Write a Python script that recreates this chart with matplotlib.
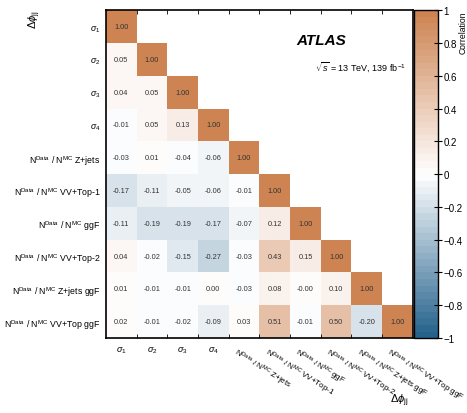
import numpy as np
import matplotlib
matplotlib.use("Agg")
import matplotlib.pyplot as plt
from matplotlib.colors import LinearSegmentedColormap

plt.rcParams['font.family'] = ['Liberation Sans', 'DejaVu Sans']
plt.rcParams['mathtext.fontset'] = 'custom'
plt.rcParams['mathtext.rm'] = 'Liberation Sans'
plt.rcParams['mathtext.it'] = 'Liberation Sans:italic'

labels = [r'$\sigma_1$', r'$\sigma_2$', r'$\sigma_3$', r'$\sigma_4$',
          r'N$^{\rm Data}$ / N$^{\rm MC}$ Z+jets',
          r'N$^{\rm Data}$ / N$^{\rm MC}$ VV+Top-1',
          r'N$^{\rm Data}$ / N$^{\rm MC}$ ggF',
          r'N$^{\rm Data}$ / N$^{\rm MC}$ VV+Top-2',
          r'N$^{\rm Data}$ / N$^{\rm MC}$ Z+jets ggF',
          r'N$^{\rm Data}$ / N$^{\rm MC}$ VV+Top ggF']

row0 = [1.00]
row1 = [0.05, 1.00]
row2 = [0.04, 0.05, 1.00]
row3 = [-0.01, 0.05, 0.13, 1.00]
row4 = [-0.03, 0.01, -0.04, -0.06, 1.00]
row5 = [-0.17, -0.11, -0.05, -0.06, -0.01, 1.00]
row6 = [-0.11, -0.19, -0.19, -0.17, -0.07, 0.12, 1.00]
row7 = [0.04, -0.02, -0.15, -0.27, -0.03, 0.43, 0.15, 1.00]
row8 = [0.01, -0.01, -0.01, 0.00, -0.03, 0.08, -0.00, 0.10, 1.00]
row9 = [0.02, -0.01, -0.02, -0.09, 0.03, 0.51, -0.01, 0.50, -0.20, 1.00]
rows = [row0, row1, row2, row3, row4, row5, row6, row7, row8, row9]
row_texts = [None, None, None, None, None, None, None, None,
             ['0.01', '-0.01', '-0.01', '0.00', '-0.03', '0.08', '-0.00', '0.10', '1.00'], None]

n = len(labels)
M = np.full((n, n), np.nan)
for i, r in enumerate(rows):
    M[i, :len(r)] = r

cmap = LinearSegmentedColormap.from_list(
    'atl', [(0.0, (37/255, 98/255, 140/255)), (0.5, (1, 1, 1)), (1.0, (205/255, 132/255, 82/255))], N=50)

fig = plt.figure(figsize=(4.67, 4.14), dpi=100)
ax = fig.add_axes([0.227, 0.181, 0.657, 0.792])
im = ax.pcolormesh(np.arange(n + 1), np.arange(n + 1), M, cmap=cmap, vmin=-1, vmax=1)
ax.set_xlim(0, n)
ax.set_ylim(n, 0)

for i, r in enumerate(rows):
    for j, v in enumerate(r):
        t = row_texts[i][j] if row_texts[i] else f'{v:.2f}'
        ax.text(j + 0.5, i + 0.5, t, ha='center', va='center', fontsize=5.3, color='#333333')

ax.set_yticks(np.arange(n) + 0.5)
ax.set_yticklabels(labels, fontsize=6.3)
ax.set_xticks(np.arange(n) + 0.5)
ax.set_xticklabels([])
ax.tick_params(axis='both', length=0, pad=4)
ax.set_xticks(np.arange(1, n), minor=True)
ax.set_yticks(np.arange(1, n), minor=True)
ax.tick_params(axis='x', which='minor', direction='in', length=3, top=True, bottom=True, width=0.6)
ax.tick_params(axis='y', which='minor', length=0)
for s in ax.spines.values():
    s.set_linewidth(1.2)

for j, lab in enumerate(labels):
    if j < 4:
        ax.text(j + 0.5, n + 0.2, lab, ha='center', va='top', fontsize=6.5)
    else:
        ax.text(j + 0.3, n + 0.22, lab, ha='left', va='top', fontsize=5.8,
                rotation=-32, rotation_mode='anchor')

fig.text(0.855, 0.032, r'$\Delta\phi_{\rm jj}$', ha='center', va='center', fontsize=8)
fig.text(0.075, 0.975, r'$\Delta\phi_{\rm jj}$', ha='center', va='top', fontsize=8, rotation=90)

ax.text(0.62, 0.91, 'ATLAS', transform=ax.transAxes, fontsize=11, fontweight='bold', style='italic', ha='left', va='center')
ax.text(0.68, 0.83, r'$\sqrt{s}$ = 13 TeV, 139 fb$^{-1}$', transform=ax.transAxes, fontsize=6.5, ha='left', va='center')

cax = fig.add_axes([0.886, 0.181, 0.051, 0.792])
cb = fig.colorbar(im, cax=cax)
cb.set_ticks(np.arange(-1, 1.01, 0.2))
cb.set_ticklabels(['\u22121', '\u22120.8', '\u22120.6', '\u22120.4', '\u22120.2', '0', '0.2', '0.4', '0.6', '0.8', '1'])
cax.tick_params(labelsize=7, direction='inout', length=6, width=0.8, pad=1)
cb.outline.set_linewidth(1.0)
cb.set_label('Correlation', fontsize=6.2, labelpad=-2.5, loc='top')

fig.savefig('out.png', dpi=100)
